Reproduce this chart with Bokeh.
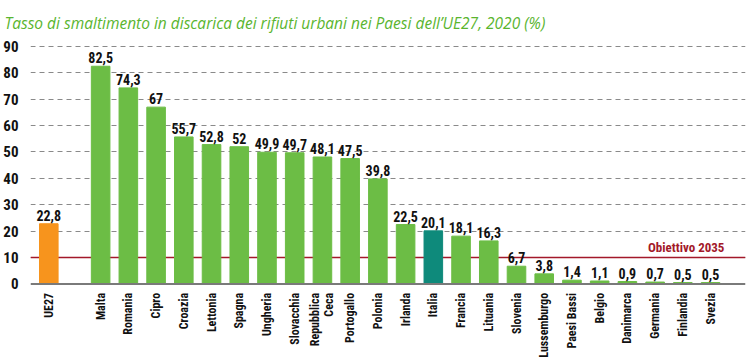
import math
from bokeh.plotting import figure
from bokeh.models import ColumnDataSource, FixedTicker, Span, Label
from bokeh.core.properties import value
from bokeh.embed import file_html
from bokeh.resources import INLINE

# ---- data ----
categories = ["UE27", "Malta", "Romania", "Cipro", "Croazia", "Lettonia", "Spagna",
              "Ungheria", "Slovacchia", "Repubblica\nCeca", "Portogallo", "Polonia",
              "Irlanda", "Italia", "Francia", "Lituania", "Slovenia", "Lussemburgo",
              "Paesi Bassi", "Belgio", "Danimarca", "Germania", "Finlandia", "Svezia"]
values = [22.8, 82.5, 74.3, 67, 55.7, 52.8, 52, 49.9, 49.7, 48.1, 47.5, 39.8,
          22.5, 20.1, 18.1, 16.3, 6.7, 3.8, 1.4, 1.1, 0.9, 0.7, 0.5, 0.5]
target = 10
y_ticks = [0, 10, 20, 30, 40, 50, 60, 70, 80, 90]

GREEN = "#6cbd45"
ORANGE = "#f7941d"
TEAL = "#0e8a7b"
RED = "#a3192a"
FONT = "Roboto Condensed, Noto Sans Condensed, DejaVu Sans Condensed, Roboto, sans-serif"

# positions: gap after UE27
xs = [0.0] + [1.87 + i for i in range(len(categories) - 1)]
colors = []
for c in categories:
    if c == "UE27":
        colors.append(ORANGE)
    elif c == "Italia":
        colors.append(TEAL)
    else:
        colors.append(GREEN)
labels = [("%g" % v).replace(".", ",") for v in values]

src = ColumnDataSource(dict(x=xs, top=values, color=colors, label=labels,
                            cat=categories, zero=[0] * len(xs)))

p = figure(width=750, height=357, output_backend="svg", toolbar_location=None,
           x_range=(-0.66, 25.13), y_range=(-27.9, 91.5),
           min_border_left=0, min_border_right=5, min_border_top=0, min_border_bottom=0)

p.title.text = "Tasso di smaltimento in discarica dei rifiuti urbani nei Paesi dell\u2019UE27, 2020 (%)"
p.title.text_font = "Open Sans"
p.title.text_font_style = "italic"
p.title.text_font_size = "15.5px"
p.title.text_color = "#5ab52f"
p.title.offset = -26
p.title.standoff = 18

p.outline_line_color = None
p.background_fill_color = "white"

# grid
p.xgrid.grid_line_color = None
p.ygrid.ticker = FixedTicker(ticks=y_ticks[1:])
p.ygrid.grid_line_color = "#8a8a8a"
p.ygrid.grid_line_dash = "5 4"
p.ygrid.grid_line_width = 1.2

# target line
p.add_layout(Span(location=target, dimension="width", line_color=RED,
                  line_width=1.3, level="underlay"))

p.vbar(x="x", top="top", width=0.67, color="color", source=src)
p.text(x="x", y="top", text="label", source=src, text_align="center",
       text_baseline="bottom", y_offset=-3, text_font=value(FONT),
       text_font_style="bold", text_font_size="14px", text_color="#111111")

# baseline (x axis line)
p.add_layout(Span(location=0, dimension="width", line_color="#7a7a7a", line_width=2))

# category labels, vertical, reading bottom to top
p.text(x="x", y="zero", text="cat", source=src, angle=math.pi / 2,
       text_align="right", text_baseline="middle", y_offset=9,
       text_font=value(FONT), text_font_style="bold", text_font_size="12px",
       text_color="#111111", text_line_height=1.0)

# axes
p.xaxis.visible = False
p.yaxis.ticker = FixedTicker(ticks=y_ticks)
p.yaxis.axis_line_color = None
p.yaxis.major_tick_line_color = None
p.yaxis.minor_tick_line_color = None
p.yaxis.major_label_text_font = FONT
p.yaxis.major_label_text_font_style = "bold"
p.yaxis.major_label_text_font_size = "15px"
p.yaxis.major_label_text_color = "#111111"
p.yaxis.major_label_standoff = 6

p.add_layout(Label(x=xs[-1] + 0.5, y=target, y_offset=3, text="Obiettivo 2035",
                   text_align="right", text_baseline="bottom", text_color=RED,
                   text_font=FONT, text_font_style="bold", text_font_size="13px"))
p.add_layout(Label(x=25.13, y=91.5, y_offset=23, text="Fonte: Eurostat",
                   text_align="right", text_baseline="middle", text_color="#111111",
                   text_font=FONT, text_font_style="bold", text_font_size="16px"))

open("out.html", "w").write(file_html(p, INLINE))
